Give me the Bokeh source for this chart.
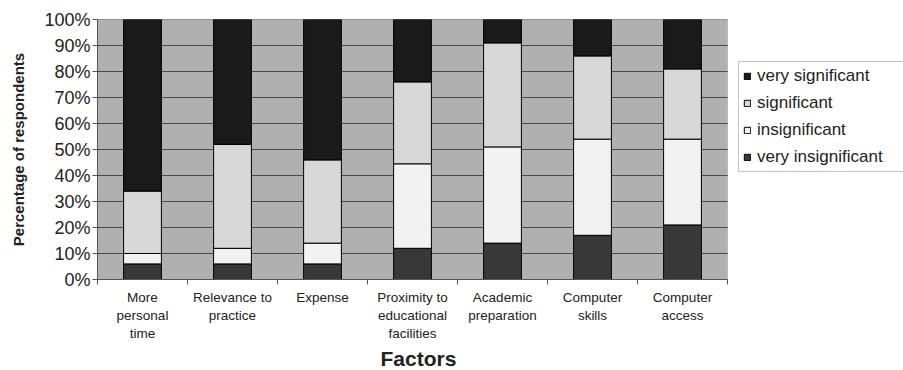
from bokeh.plotting import figure
from bokeh.models import (Range1d, FixedTicker, PrintfTickFormatter, Legend, LegendItem,
                          ColumnDataSource, BoxAnnotation, Title)
from bokeh.embed import file_html
from bokeh.resources import INLINE

factors = ["More\npersonal\ntime", "Relevance to\npractice", "Expense",
           "Proximity to\neducational\nfacilities", "Academic\npreparation",
           "Computer\nskills", "Computer\naccess"]
very_insignificant = [6, 6, 6, 12, 14, 17, 21]
insignificant = [4, 6, 8, 32.5, 37, 37, 33]
significant = [24, 40, 32, 31.5, 40, 32, 27]
very_significant = [66, 48, 54, 24, 9, 14, 19]
series = ["very_insignificant", "insignificant", "significant", "very_significant"]
series_labels = ["very insignificant", "insignificant", "significant", "very significant"]
colors = ["#383838", "#f2f2f2", "#d8d8d8", "#1a1a1a"]
y_ticks = [0, 10, 20, 30, 40, 50, 60, 70, 80, 90, 100]

n = len(factors)
xpos = [i + 0.5 for i in range(n)]
source = ColumnDataSource(dict(x=xpos, very_insignificant=very_insignificant,
                               insignificant=insignificant, significant=significant,
                               very_significant=very_significant))

FONT = "Liberation Sans"
# frame spans the plot area plus the legend area on the right (630 px plot + 176 px legend)
x_extent = n * 806 / 630

p = figure(width=903, height=370, output_backend="svg", toolbar_location=None,
           x_range=Range1d(0, x_extent), y_range=Range1d(0, 100),
           min_border_left=97, min_border_right=0, min_border_top=19, min_border_bottom=91)

p.background_fill_color = "white"
p.border_fill_color = "white"
p.outline_line_color = None
p.grid.grid_line_color = None

plot_area = BoxAnnotation(left=0, right=n, bottom=0, top=100, fill_color="#b0b0b0",
                          fill_alpha=1, line_color="#7a7a7a", line_width=1, level="underlay")
p.add_layout(plot_area)

# horizontal gridlines over the plot area only
p.segment(x0=[0] * len(y_ticks), x1=[n] * len(y_ticks), y0=y_ticks, y1=y_ticks,
          line_color="#4a4a4a", line_width=1)

renderers = p.vbar_stack(series, x="x", width=0.42, source=source, color=colors,
                         line_color="black", line_width=1)

# y axis
p.yaxis.ticker = FixedTicker(ticks=y_ticks)
p.yaxis.formatter = PrintfTickFormatter(format="%d%%")
p.yaxis.major_label_text_font = FONT
p.yaxis.major_label_text_font_size = "18px"
p.yaxis.major_label_text_color = "#222222"
p.yaxis.major_tick_out = 5
p.yaxis.major_tick_in = 0
p.yaxis.minor_tick_line_color = None
p.yaxis.axis_line_color = "#555555"
p.yaxis.major_tick_line_color = "#555555"
p.yaxis.major_label_standoff = 2
p.yaxis.axis_label = "Percentage of respondents"
p.yaxis.axis_label_text_font = FONT
p.yaxis.axis_label_text_font_style = "bold"
p.yaxis.axis_label_text_font_size = "15px"
p.yaxis.axis_label_text_color = "#222222"
p.yaxis.axis_label_standoff = 14

# x axis
p.xaxis.bounds = (0, n)
p.xaxis.ticker = FixedTicker(ticks=xpos, minor_ticks=list(range(n + 1)))
p.xaxis.major_label_overrides = {x: f for x, f in zip(xpos, factors)}
p.xaxis.major_tick_out = 0
p.xaxis.major_tick_in = 0
p.xaxis.minor_tick_out = 5
p.xaxis.minor_tick_in = 0
p.xaxis.minor_tick_line_color = "#555555"
p.xaxis.axis_line_color = "#555555"
p.xaxis.major_label_text_font = FONT
p.xaxis.major_label_text_font_size = "13.5px"
p.xaxis.major_label_text_color = "#222222"
p.xaxis.major_label_standoff = 5

# x axis title, centred under the plot area (not under the legend area)
xtitle = Title(text="Factors", align="left", offset=283, standoff=2,
               text_font=FONT, text_font_style="bold", text_font_size="21px",
               text_color="#222222")
p.add_layout(xtitle, "below")

items = [LegendItem(label=lab, renderers=[r]) for lab, r in zip(series_labels, renderers)][::-1]
legend = Legend(items=items, location=(641, 107))
legend.label_text_font = FONT
legend.label_text_font_size = "17px"
legend.label_text_color = "#222222"
legend.glyph_width = 8
legend.glyph_height = 8
legend.label_height = 18
legend.label_width = 150
legend.spacing = 7
legend.label_standoff = 6
legend.padding = 4
legend.margin = 0
legend.border_line_color = "#888888"
legend.border_line_width = 1
legend.background_fill_color = "white"
legend.background_fill_alpha = 1
p.add_layout(legend)

open("out.html", "w").write(file_html(p, INLINE))
